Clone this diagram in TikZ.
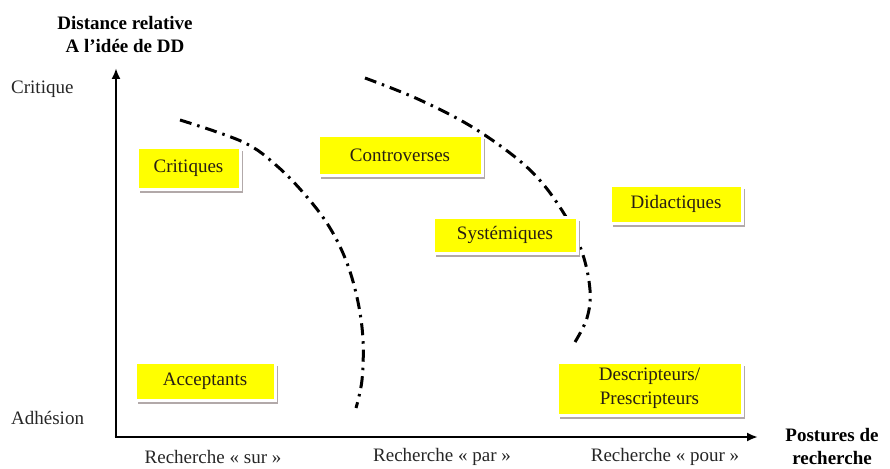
\documentclass[tikz,border=0pt]{standalone}
\usepackage{fontspec}
\setmainfont{Liberation Serif}
\usetikzlibrary{arrows.meta,shadows}
\definecolor{boxyellow}{RGB}{255,255,0}
\definecolor{shadowgray}{RGB}{170,160,160}
\definecolor{boxtext}{RGB}{40,30,20}
\tikzset{
  cat/.style={fill=boxyellow, draw=white, line width=3pt, inner sep=0pt,
    font=\fontsize{19}{24}\selectfont, text=boxtext, align=center,
    drop shadow={shadow xshift=2.5pt, shadow yshift=-3.5pt, fill=shadowgray, opacity=0.9}},
  lbl/.style={font=\fontsize{19}{22}\selectfont, inner sep=0pt, align=center, text=black!85},
  blbl/.style={font=\fontsize{19}{23}\bfseries\selectfont, inner sep=0pt, align=center},
  axisline/.style={line width=2.8pt, -{Latex[length=11pt,width=9pt]}},
  frontier/.style={line width=3pt, dash pattern=on 12pt off 6pt on 2.5pt off 6pt}
}
\begin{document}
\begin{tikzpicture}[x=1pt,y=-1pt]
\useasboundingbox (0,0) rectangle (890,468);
% frontiers
\draw[frontier] plot[smooth, tension=0.6] coordinates {(180,120) (243,142) (277,166) (307,197) (330,228) (347,263) (358,302) (363,340) (362,380) (356,408)};
\draw[frontier] plot[smooth, tension=0.6] coordinates {(365,78) (420,100) (477,130) (530,170) (563,212) (582,252) (590,290) (587,318) (575,342)};
% axes
\coordinate (origin) at (116,437);
\coordinate (ytip) at (116,68);
\coordinate (xtip) at (758,437);
\draw[axisline] (origin) -- (ytip);
\draw[axisline] ([xshift=-1.4pt]origin) -- (xtip);
% boxes
\node[cat, minimum width=103pt, minimum height=42pt] (critiques) at (188.5,168) {Critiques};
\node[cat, minimum width=164pt, minimum height=40pt] (controverses) at (400,155) {Controverses};
\node[cat, minimum width=144pt, minimum height=36pt] (systemiques) at (505,235) {Systémiques};
\node[cat, minimum width=132pt, minimum height=38pt] (didactiques) at (676,204) {Didactiques};
\node[cat, minimum width=140pt, minimum height=38pt] (acceptants) at (205,381) {Acceptants};
\node[cat, minimum width=185pt, minimum height=53pt] (descripteurs) at (649.5,388.5) {Descripteurs/\\Prescripteurs};
% labels
\node[blbl] (ytitle) at (125,35) {Distance relative\\A l’idée de DD};
\node[lbl, anchor=west] (critique) at (11,89) {Critique};
\node[lbl, anchor=west] (adhesion) at (11,418) {Adhésion};
\node[lbl] (sur) at (213,457) {Recherche « sur »};
\node[lbl] (par) at (442,457) {Recherche « par »};
\node[lbl] (pour) at (665,457) {Recherche « pour »};
\node[blbl] (xtitle) at (832,446) {Postures de\\recherche};
\end{tikzpicture}
\end{document}
